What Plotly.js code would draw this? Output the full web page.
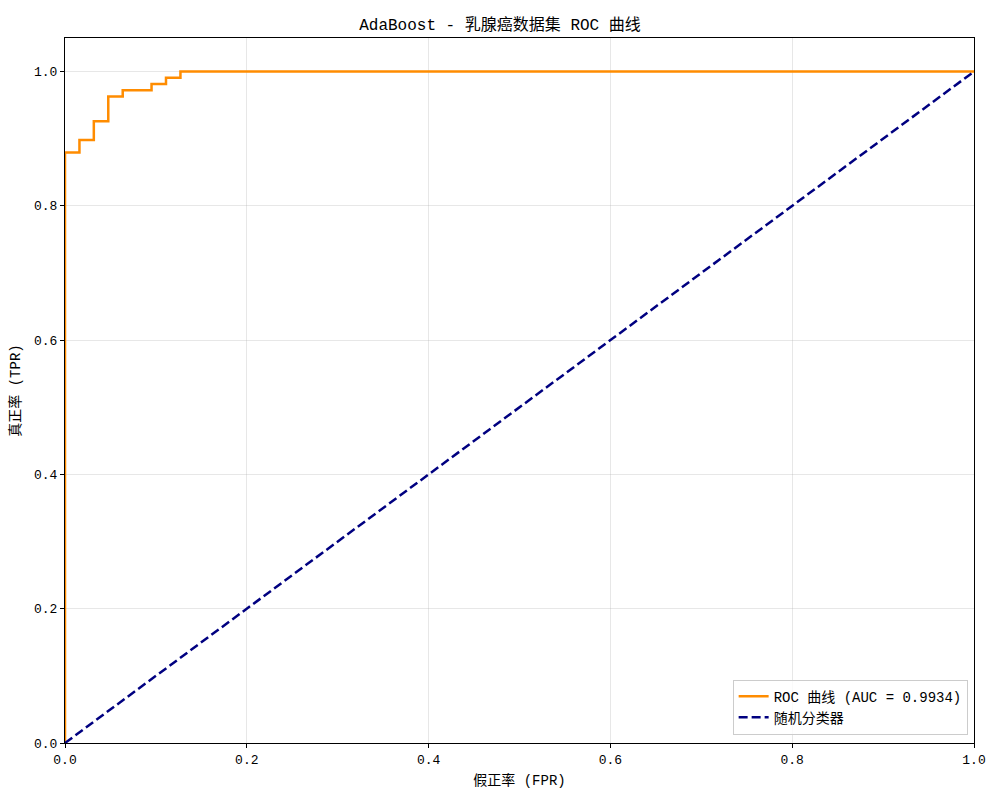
<!DOCTYPE html>
<html>
<head>
<meta charset="utf-8">
<script src="https://cdn.plot.ly/plotly-3.0.1.min.js"></script>
<style>
  body { margin: 0; background: #fff; }
  #plot { width: 1000px; height: 800px; }
</style>
</head>
<body>
<div id="plot"></div>
<script>
// ROC curve points (sklearn-style, after drop_intermediate)
const rocFpr = [0, 0, 0.0159, 0.0159, 0.0317, 0.0317, 0.0476, 0.0476, 0.0635, 0.0635,
                0.0952, 0.0952, 0.1111, 0.1111, 0.1270, 0.1270, 1];
const rocTpr = [0, 0.8796, 0.8796, 0.8981, 0.8981, 0.9259, 0.9259, 0.9630, 0.9630, 0.9722,
                0.9722, 0.9815, 0.9815, 0.9907, 0.9907, 1, 1];
const aucValue = 0.9934;

const diagX = [0, 1];
const diagY = [0, 1];

const tickVals = [0, 0.2, 0.4, 0.6, 0.8, 1.0];
const tickText = ['0.0', '0.2', '0.4', '0.6', '0.8', '1.0'];

const FONT = 'Liberation Mono, "Noto Sans CJK SC", sans-serif';

const rocTrace = {
  x: rocFpr,
  y: rocTpr,
  mode: 'lines',
  type: 'scatter',
  name: 'ROC 曲线 (AUC = ' + aucValue.toFixed(4) + ')',
  line: { color: 'darkorange', width: 2.5 },
};

const diagTrace = {
  x: diagX,
  y: diagY,
  mode: 'lines',
  type: 'scatter',
  name: '随机分类器',
  line: { color: 'navy', width: 2.5, dash: '9px,4px' },
};

const axisBase = {
  showline: true,
  linecolor: 'black',
  linewidth: 1,
  mirror: true,
  ticks: 'outside',
  ticklen: 4,
  tickcolor: 'black',
  showgrid: true,
  gridcolor: 'rgba(176,176,176,0.3)',
  gridwidth: 1,
  zeroline: false,
  tickvals: tickVals,
  ticktext: tickText,
  tickfont: { family: FONT, size: 13, color: 'black' },
};

const layout = {
  width: 1000,
  height: 800,
  paper_bgcolor: 'white',
  plot_bgcolor: 'white',
  font: { family: FONT, color: 'black' },
  title: {
    text: 'AdaBoost - 乳腺癌数据集 ROC 曲线',
    font: { family: FONT, size: 16, color: 'black' },
    x: 0.5,
    xanchor: 'center',
    y: 0.97,
    yanchor: 'middle',
  },
  xaxis: Object.assign({}, axisBase, {
    range: [0, 1],
    title: { text: '假正率 (FPR)', font: { family: FONT, size: 14 }, standoff: 8 },
  }),
  yaxis: Object.assign({}, axisBase, {
    range: [0, 1.05],
    title: { text: '真正率 (TPR)', font: { family: FONT, size: 14 }, standoff: 10 },
  }),
  showlegend: true,
  legend: {
    x: 0.993,
    y: 0.012,
    xanchor: 'right',
    yanchor: 'bottom',
    bgcolor: 'rgba(255,255,255,0.8)',
    bordercolor: '#cccccc',
    borderwidth: 1,
    font: { family: FONT, size: 14, color: 'black' },
  },
  margin: { l: 65, r: 26, t: 38, b: 57 },
};

Plotly.newPlot('plot', [rocTrace, diagTrace], layout, { displayModeBar: false, staticPlot: true });
</script>
</body>
</html>
